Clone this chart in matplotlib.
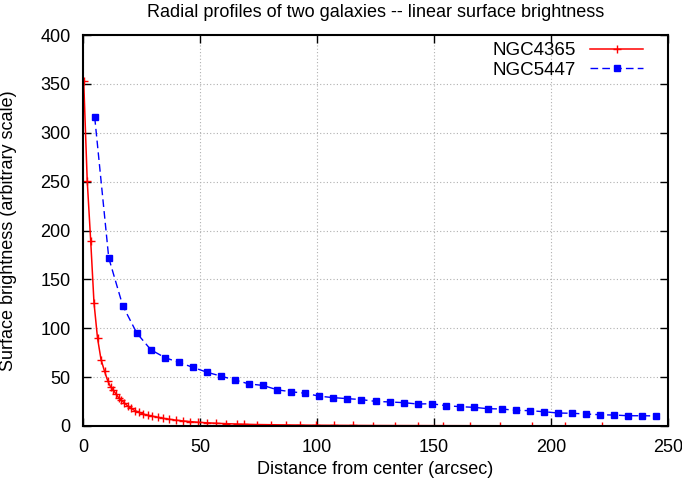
import matplotlib
matplotlib.use('Agg')
import matplotlib.pyplot as plt

# NGC4365: radius (arcsec) and surface brightness
ngc4365_r = [0.3, 1.8, 3.3, 4.7, 6.2, 7.7, 9.2, 10.6, 11.8, 12.9, 14.0, 15.2, 16.4,
             17.7, 19.1, 20.6, 22.2, 23.9, 25.7, 27.6, 29.7, 31.9, 34.3, 36.9, 39.7,
             42.7, 45.9, 49.3, 53.0, 57.0, 61.3, 65.9, 69.0, 74.2, 80.2, 86.8, 92.7,
             99.4, 107.4, 115.2, 124.1, 133.3, 143.3, 154.0, 165.4, 178.2, 191.7,
             206.0, 221.7]
ngc4365_sb = [353, 251, 189, 126, 90, 68, 56, 46, 40, 37, 33, 29, 26.5,
              23.5, 20.5, 18, 15.7, 14, 12.3, 11, 10, 9, 7.8, 6.9, 6.0,
              5.2, 4.5, 3.8, 3.3, 2.8, 2.4, 2.0, 1.8, 1.5, 1.3, 1.1, 0.95,
              0.8, 0.7, 0.6, 0.5, 0.45, 0.4, 0.35, 0.3, 0.25, 0.2,
              0.18, 0.15]

# NGC5447
ngc5447_r = [5, 11, 17, 23, 29, 35, 41, 47, 53, 59, 65, 71, 77, 83, 89, 95, 101,
             107, 113, 119, 125, 131, 137, 143, 149, 155, 161, 167, 173, 179, 185,
             191, 197, 203, 209, 215, 221, 227, 233, 239, 245]
ngc5447_sb = [316, 172, 123, 95, 78, 70, 65, 60, 55, 51, 47, 43, 41.5, 37, 35,
              33.5, 30.5, 29, 28, 27, 25.2, 24.6, 23.9, 22.5, 22.8, 20.8, 19.8,
              19.1, 17.7, 17.4, 16, 15.7, 14.6, 13.3, 13, 12.3, 11.5, 11.2, 10.5,
              10.5, 10.3]

xticks = [0, 50, 100, 150, 200, 250]
yticks = [0, 50, 100, 150, 200, 250, 300, 350, 400]

FS = 13


def plot_profiles():
    plt.rcParams['font.family'] = ['Liberation Sans', 'DejaVu Sans']
    fig = plt.figure(figsize=(6.82, 4.83), dpi=100)
    ax = fig.add_axes([83 / 682, 57 / 483, 585 / 682, 391 / 483])

    ax.plot(ngc4365_r, ngc4365_sb, color='red', lw=1.1, marker='+',
            markersize=6, markeredgewidth=1.0, label='NGC4365')
    ax.plot(ngc5447_r, ngc5447_sb, color='blue', lw=1.0, ls=(0, (5.5, 3)),
            marker='s', markersize=5, label='NGC5447')

    ax.set_xlim(0, 250)
    ax.set_ylim(0, 400)
    ax.set_xticks(xticks)
    ax.set_yticks(yticks)
    ax.tick_params(direction='in', length=6, width=1, top=True, right=True,
                   labelsize=FS)
    ax.tick_params(axis='x', pad=9)
    ax.tick_params(axis='y', pad=9)
    ax.grid(True, color='#b0b0b0', ls=(0, (1, 2)), lw=0.8)
    for s in ax.spines.values():
        s.set_linewidth(1.5)

    ax.set_title('Radial profiles of two galaxies -- linear surface brightness',
                 fontsize=FS, pad=13)
    ax.set_xlabel('Distance from center (arcsec)', fontsize=FS)
    ax.set_ylabel('Surface brightness (arbitrary scale)', fontsize=FS)
    ax.xaxis.set_label_coords(0.5, -0.09)
    ax.yaxis.set_label_coords(-0.113, 0.5)

    leg = ax.legend(loc='upper right', bbox_to_anchor=(0.957, 0.982),
                    frameon=False, fontsize=13.5, markerfirst=False,
                    handlelength=2.8, handletextpad=0.75, borderaxespad=0,
                    borderpad=0, labelspacing=0.13)
    for t in leg.get_texts():
        t.set_ha('right')

    fig.savefig('out.png', dpi=100)
    plt.close(fig)


if __name__ == "__main__":
    plot_profiles()
